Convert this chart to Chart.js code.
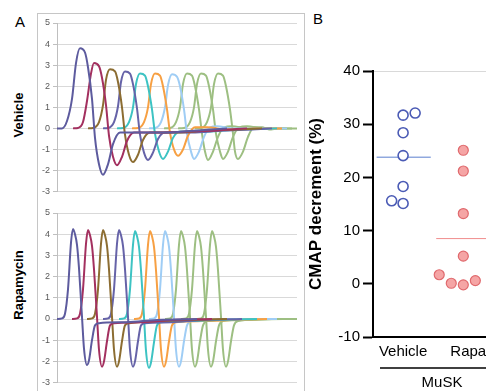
<!DOCTYPE html>
<html>
<head>
<meta charset="utf-8">
<script src="https://cdn.jsdelivr.net/npm/chart.js@4.4.1/dist/chart.umd.min.js"></script>
<style>
  body { margin: 0; width: 486px; height: 391px; overflow: hidden; background: #fff; position: relative;
         font-family: "Liberation Sans", Arial, sans-serif; }
  .abs { position: absolute; }
  #boxA { left: 37px; top: 13px; width: 266px; height: 420px; border: 1px solid #c6c6c6; }
  .panel { font-size: 15px; color: #000; }
  .rot { font-weight: bold; font-size: 13px; transform: translate(-50%, -50%) rotate(-90deg); white-space: nowrap; }
</style>
</head>
<body>
<div id="boxA" class="abs"></div>
<div class="abs panel" style="left:15px; top:13px;">A</div>
<div class="abs panel" style="left:313px; top:10px;">B</div>
<div class="abs rot" style="left:18px; top:115px;">Vehicle</div>
<div class="abs rot" style="left:18px; top:285px;">Rapamycin</div>
<canvas id="vehicleChart" class="abs" width="265" height="187" style="left:38px; top:13px;"></canvas>
<canvas id="rapaChart" class="abs" width="265" height="188" style="left:38px; top:203px;"></canvas>
<canvas id="cmapChart" class="abs" width="200" height="391" style="left:300px; top:0px;"></canvas>

<script>
// ---- Panel A: CMAP traces (x = sample index, y = mV) ----
const traceColors = ['#5d5b9e', '#a3305f', '#8c6d32', '#6663a8', '#3dc3c3',
                     '#f7a043', '#9fcdf5', '#9dbf82', '#9dbf82', '#9dbf82'];
const yTicksA = { min: -3, max: 5, step: 1 };

const vehicleTraces = [
  [[0,0],[5,0],[10,0.35],[15,1.4],[19,3.1],[23,3.8],[28,3.6],[31,2.9],[35,1.4],[38,-0.45],[42,-1.7],[46,-2.2],[51,-1.7],[56,-0.75],[63,-0.2],[80,-0.2],[110,-0.2],[140,-0.1],[170,0]],
  [[16,0],[21,0.02],[26,0.3],[30,1.3],[34,2.6],[37,3.1],[42,2.95],[45,2.4],[49,1.1],[52,-0.35],[56,-1.35],[60,-1.75],[65,-1.35],[70,-0.6],[77,-0.2],[100,-0.2],[130,-0.15],[160,-0.1],[190,0]],
  [[31,0],[36,0.02],[42,0.3],[46,1.1],[49,2.3],[53,2.8],[58,2.7],[61,2.2],[65,1.0],[68,-0.3],[72,-1.25],[76,-1.6],[81,-1.25],[86,-0.55],[93,-0.2],[120,-0.2],[150,-0.1],[180,-0.05],[205,0]],
  [[46,0],[51,0.02],[57,0.3],[61,1.05],[64,2.2],[68,2.7],[73,2.6],[76,2.1],[80,0.95],[83,-0.3],[87,-1.15],[91,-1.5],[96,-1.15],[101,-0.5],[108,-0.2],[135,-0.2],[165,-0.1],[195,-0.05],[215,0]],
  [[60,0],[66,0.02],[72,0.3],[76,1.0],[79,2.1],[83,2.6],[88,2.5],[91,2.0],[95,0.9],[98,-0.25],[102,-1.1],[106,-1.45],[111,-1.1],[116,-0.45],[123,-0.15],[150,-0.15],[180,-0.05],[220,0]],
  [[75,0],[81,0.02],[87,0.3],[91,1.0],[94,2.1],[98,2.6],[103,2.5],[106,2.0],[110,0.9],[113,-0.2],[117,-1.0],[121,-1.3],[126,-1.0],[131,-0.35],[138,0.05],[150,0.05],[170,-0.05],[200,0],[225,0]],
  [[92,0],[98,0.02],[104,0.3],[108,1.0],[111,2.05],[115,2.57],[120,2.45],[123,2.0],[127,0.9],[130,-0.25],[134,-1.1],[137,-1.45],[142,-1.1],[147,-0.4],[153,0.05],[160,0.1],[175,0],[200,0],[230,0]],
  [[107,0],[113,0.02],[119,0.3],[123,1.0],[126,2.1],[130,2.6],[135,2.5],[138,2.0],[142,0.9],[145,-0.25],[148,-1.1],[151,-1.5],[156,-1.1],[161,-0.4],[167,0.05],[175,0.1],[190,0],[230,0]],
  [[121,0],[127,0.02],[133,0.3],[137,1.0],[140,2.1],[144,2.6],[149,2.5],[152,2.0],[156,0.9],[159,-0.25],[163,-1.1],[166,-1.45],[171,-1.1],[176,-0.4],[182,0.05],[190,0.1],[205,0],[235,0]],
  [[138,0],[144,0.02],[150,0.3],[154,1.0],[157,2.1],[161,2.6],[166,2.5],[169,2.0],[173,0.9],[176,-0.25],[178,-1.1],[181,-1.45],[186,-1.1],[191,-0.4],[197,0.05],[205,0.05],[212,-0.05],[222,0],[240,0]]
];

const rapamycinTraces = [
  [[0,0],[5,0.03],[8,0.25],[11,1.4],[14,3.6],[16,4.25],[18,4.0],[20,3.5],[22,2.4],[25,0.1],[27,-1.4],[30,-2.17],[32,-1.95],[35,-1.0],[38,-0.3],[42,-0.2],[70,-0.15],[100,-0.05],[140,0]],
  [[15,0],[20,0.03],[23,0.25],[26,1.4],[29,3.55],[31,4.2],[33,3.95],[35,3.45],[37,2.35],[40,0.1],[42,-1.45],[45,-2.25],[47,-2.0],[50,-1.05],[53,-0.3],[57,-0.2],[85,-0.15],[115,-0.05],[155,0]],
  [[30,0],[35,0.03],[38,0.25],[41,1.4],[44,3.55],[46,4.2],[48,3.95],[50,3.45],[52,2.35],[55,0.1],[57,-1.45],[60,-2.25],[62,-2.0],[65,-1.05],[68,-0.3],[72,-0.2],[100,-0.1],[130,-0.05],[170,0]],
  [[46,0],[51,0.03],[54,0.25],[57,1.4],[60,3.55],[62,4.2],[64,3.95],[66,3.45],[68,2.35],[71,0.1],[73,-1.45],[76,-2.25],[78,-2.0],[81,-1.05],[84,-0.3],[88,-0.2],[115,-0.15],[145,-0.05],[185,0]],
  [[62,0],[67,0.03],[70,0.25],[73,1.4],[76,3.5],[78,4.15],[80,3.9],[82,3.4],[84,2.3],[87,0.1],[89,-1.5],[92,-2.3],[94,-2.05],[97,-1.1],[100,-0.3],[104,-0.15],[130,-0.1],[160,-0.05],[200,0]],
  [[77,0],[82,0.03],[85,0.25],[88,1.4],[91,3.5],[93,4.15],[95,3.9],[97,3.4],[99,2.3],[102,0.1],[104,-1.45],[107,-2.25],[109,-2.0],[112,-1.05],[115,-0.3],[119,-0.15],[145,-0.1],[175,-0.05],[210,0]],
  [[92,0],[97,0.03],[100,0.25],[103,1.4],[106,3.5],[108,4.15],[110,3.9],[112,3.4],[114,2.3],[117,0.1],[119,-1.45],[122,-2.25],[124,-2.0],[127,-1.05],[130,-0.3],[134,-0.1],[160,-0.05],[190,0],[220,0]],
  [[108,0],[113,0.03],[116,0.25],[119,1.4],[122,3.5],[124,4.15],[126,3.9],[128,3.4],[130,2.3],[133,0.1],[135,-1.45],[138,-2.25],[140,-2.0],[143,-1.05],[146,-0.3],[150,-0.1],[175,-0.05],[205,0],[230,0]],
  [[124,0],[129,0.03],[132,0.25],[135,1.4],[138,3.5],[140,4.15],[142,3.9],[144,3.4],[146,2.3],[149,0.1],[151,-1.45],[154,-2.25],[156,-2.0],[159,-1.05],[162,-0.3],[166,-0.1],[190,-0.05],[215,0],[235,0]],
  [[139,0],[144,0.03],[147,0.25],[150,1.4],[153,3.5],[155,4.15],[157,3.9],[159,3.4],[161,2.3],[164,0.1],[166,-1.45],[169,-2.25],[171,-2.0],[174,-1.05],[177,-0.3],[181,-0.1],[200,-0.02],[240,0]]
];

// ---- Panel B: CMAP decrement (%) ----
const groupLabels = ['Vehicle', 'Rapamycin'];
const vehicleCmap = [31.7, 32.1, 28.4, 24.1, 18.3, 15.6, 15.1];
const vehicleJitter = [0, 0.2, 0, 0, 0, -0.19, 0];
const rapaCmap = [25.1, 21.2, 13.2, 5.2, 1.7, 0.1, -0.2, 0.6];
const rapaJitter = [0, 0, 0, 0, -0.4, -0.2, 0, 0.2];
const vehicleMean = 23.8;
const rapaMean = 8.5;
const yTicksB = { min: -10, max: 40, step: 10 };

function traceChart(id, traces) {
  return new Chart(document.getElementById(id), {
    type: 'line',
    data: {
      datasets: traces.map((pts, i) => ({
        data: pts.map(p => ({ x: p[0], y: p[1] })),
        borderColor: traceColors[i],
        borderWidth: 2,
        pointRadius: 0,
        cubicInterpolationMode: 'monotone',
        fill: false
      }))
    },
    options: {
      responsive: false,
      animation: false,
      devicePixelRatio: 1,
      layout: { padding: { top: 10, bottom: 5, left: 0, right: 6 } },
      plugins: { legend: { display: false }, tooltip: { enabled: false } },
      scales: {
        x: { type: 'linear', min: 0, max: 240, display: false },
        y: {
          min: yTicksA.min, max: yTicksA.max,
          afterFit: s => { s.width = 19; },
          ticks: { stepSize: yTicksA.step, color: '#595959', padding: 3,
                   font: { size: 9, family: '"Liberation Sans", Arial, sans-serif' } },
          grid: { color: '#d9d9d9', tickColor: '#bfbfbf', tickLength: 4 },
          border: { color: '#bfbfbf' }
        }
      }
    }
  });
}

traceChart('vehicleChart', vehicleTraces);
traceChart('rapaChart', rapamycinTraces);

// category labels and MuSK bracket under panel B
const groupLabelPlugin = {
  id: 'groupLabels',
  afterDraw(chart) {
    const ctx = chart.ctx;
    const x = chart.scales.x;
    ctx.save();
    ctx.fillStyle = '#000';
    ctx.font = '15px "Liberation Sans", Arial, sans-serif';
    ctx.textBaseline = 'middle';
    ctx.textAlign = 'center';
    ctx.fillText(groupLabels[0], x.getPixelForValue(1), 352);
    ctx.textAlign = 'left';
    ctx.fillText(groupLabels[1], x.getPixelForValue(2) - 13, 352);
    ctx.strokeStyle = '#000';
    ctx.lineWidth = 1.5;
    ctx.beginPath();
    ctx.moveTo(80, 368);
    ctx.lineTo(200, 368);
    ctx.stroke();
    ctx.textAlign = 'center';
    ctx.fillText('MuSK', 142, 383);
    ctx.restore();
  }
};

new Chart(document.getElementById('cmapChart'), {
  type: 'scatter',
  data: {
    datasets: [
      {
        data: vehicleCmap.map((v, i) => ({ x: 1 + vehicleJitter[i], y: v })),
        pointRadius: 5, pointBorderWidth: 1.6,
        pointBorderColor: '#4b5bb5', pointBackgroundColor: '#ffffff'
      },
      {
        data: rapaCmap.map((v, i) => ({ x: 2 + rapaJitter[i], y: v })),
        pointRadius: 5, pointBorderWidth: 1.2,
        pointBorderColor: '#e06a6e', pointBackgroundColor: '#f5a5a5'
      },
      {
        data: [{ x: 0.56, y: vehicleMean }, { x: 1.46, y: vehicleMean }],
        showLine: true, pointRadius: 0, borderColor: '#5b7fcf', borderWidth: 1
      },
      {
        data: [{ x: 1.55, y: rapaMean }, { x: 2.45, y: rapaMean }],
        showLine: true, pointRadius: 0, borderColor: '#f08c8c', borderWidth: 1
      }
    ]
  },
  options: {
    responsive: false,
    animation: false,
    devicePixelRatio: 1,
    layout: { padding: { top: 71, bottom: 54, left: 0, right: 2 } },
    plugins: { legend: { display: false }, tooltip: { enabled: false } },
    scales: {
      x: {
        type: 'linear', min: 0.5, max: 2.5,
        afterFit: s => { s.height = 0; },
        ticks: { display: false },
        grid: { display: false, drawTicks: false },
        border: { color: '#000', width: 2 }
      },
      y: {
        min: yTicksB.min, max: yTicksB.max,
        afterFit: s => { s.width = 73; },
        ticks: { stepSize: yTicksB.step, color: '#000', padding: 3,
                 font: { size: 15, family: '"Liberation Sans", Arial, sans-serif' } },
        grid: {
          color: c => (c.tick && c.tick.value === yTicksB.max) ? '#d9d9d9' : 'rgba(0,0,0,0)',
          tickColor: '#000', tickLength: 10, tickWidth: 2
        },
        border: { color: '#000', width: 2 },
        title: {
          display: true, text: 'CMAP decrement (%)', color: '#000',
          padding: { top: 6, bottom: 0 },
          font: { size: 17, weight: 'bold', family: '"Liberation Sans", Arial, sans-serif' }
        }
      }
    }
  },
  plugins: [groupLabelPlugin]
});
</script>
</body>
</html>
